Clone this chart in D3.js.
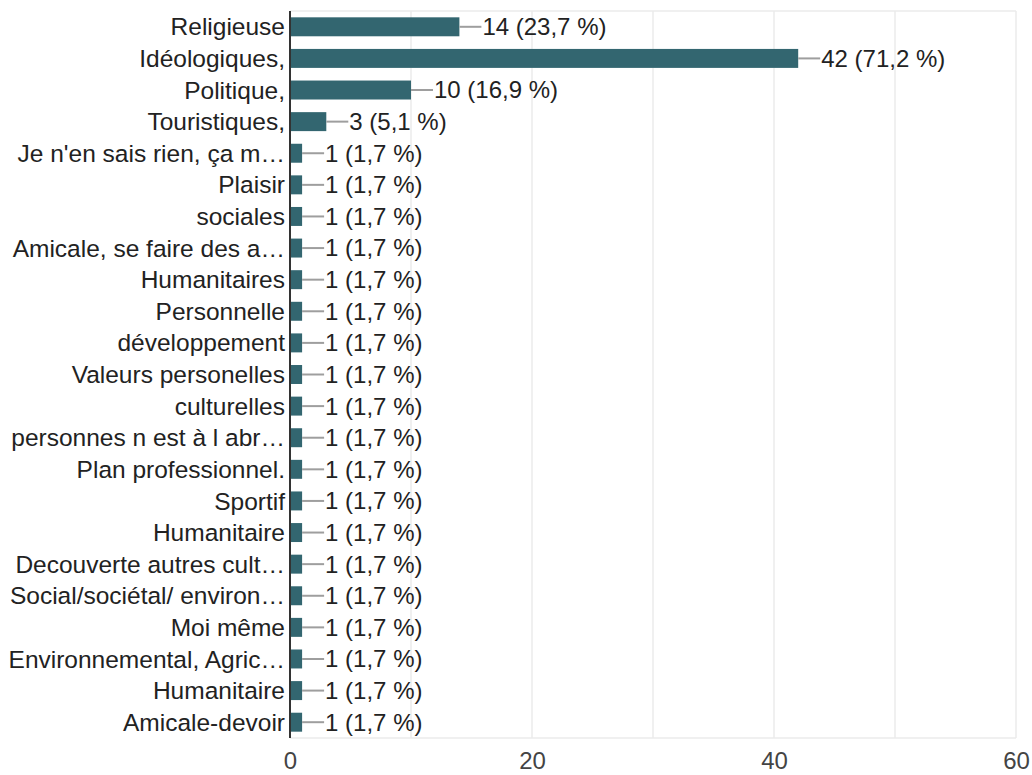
<!DOCTYPE html>
<html><head><meta charset="utf-8">
<script src="https://cdn.jsdelivr.net/npm/d3@7"></script>
<style>body{margin:0;background:#fff;} text{font-family:"Liberation Sans",Arial,sans-serif;}</style>
</head><body>
<svg id="chart" width="1032" height="775"></svg>
<script>
const categories = ["Religieuse","Idéologiques,","Politique,","Touristiques,","Je n'en sais rien, ça m…","Plaisir","sociales","Amicale, se faire des a…","Humanitaires","Personnelle","développement","Valeurs personelles","culturelles","personnes n est à l abr…","Plan professionnel.","Sportif","Humanitaire","Decouverte autres cult…","Social/sociétal/ environ…","Moi même","Environnemental, Agric…","Humanitaire","Amicale-devoir"];
const counts = [14,42,10,3,1,1,1,1,1,1,1,1,1,1,1,1,1,1,1,1,1,1,1];
const percents = ["23,7","71,2","16,9","5,1","1,7","1,7","1,7","1,7","1,7","1,7","1,7","1,7","1,7","1,7","1,7","1,7","1,7","1,7","1,7","1,7","1,7","1,7","1,7"];
const xTicks = [0,20,40,60];
const gridTicks = [10,20,30,40,50,60];

const svg = d3.select("#chart");
const L = 290, R = 1016, T = 11, B = 738;
const x = d3.scaleLinear().domain([0,60]).range([L,R]);
const idx = categories.map((c,i)=>i);
const y = d3.scaleBand().domain(idx).range([T,B]).paddingInner(0.4).paddingOuter(0.2);

// grid
svg.append("g").selectAll("line").data(gridTicks).join("line")
  .attr("x1",d=>x(d)).attr("x2",d=>x(d)).attr("y1",T).attr("y2",B)
  .attr("stroke","#ebebeb").attr("stroke-width",1.5);
svg.append("line").attr("x1",L).attr("x2",R).attr("y1",T).attr("y2",T).attr("stroke","#ebebeb").attr("stroke-width",1.5);
svg.append("line").attr("x1",L).attr("x2",R).attr("y1",B).attr("y2",B).attr("stroke","#ebebeb").attr("stroke-width",1.5);

// bars
svg.append("g").selectAll("rect").data(idx).join("rect")
  .attr("x",x(0)).attr("y",i=>y(i)).attr("width",i=>x(counts[i])-x(0)).attr("height",y.bandwidth())
  .attr("fill","#336670");

// leader lines
svg.append("g").selectAll("line").data(idx).join("line")
  .attr("x1",i=>x(counts[i])).attr("x2",i=>x(counts[i])+22)
  .attr("y1",i=>y(i)+y.bandwidth()/2).attr("y2",i=>y(i)+y.bandwidth()/2)
  .attr("stroke","#9e9e9e").attr("stroke-width",2);

// value labels
svg.append("g").selectAll("text").data(idx).join("text")
  .attr("x",i=>x(counts[i])+23).attr("y",i=>y(i)+y.bandwidth()/2)
  .attr("dy","0.35em").attr("font-size",24).attr("fill","#222")
  .text(i=>`${counts[i]} (${percents[i]} %)`);

// category labels
svg.append("g").selectAll("text").data(idx).join("text")
  .attr("x",L-5).attr("y",i=>y(i)+y.bandwidth()/2)
  .attr("dy","0.35em").attr("text-anchor","end").attr("font-size",24.5).attr("fill","#222")
  .text(i=>categories[i]);

// axis line
svg.append("line").attr("x1",L).attr("x2",L).attr("y1",T).attr("y2",B).attr("stroke","#333").attr("stroke-width",2);

// x tick labels
const xAxis = d3.axisBottom(x).tickValues(xTicks).tickSize(0).tickPadding(0);
const gx = svg.append("g").attr("transform",`translate(0,${B+14})`).call(xAxis);
gx.select(".domain").remove();
gx.selectAll("text").attr("font-size",24).attr("fill","#444").attr("font-family","Liberation Sans, Arial, sans-serif");
</script>
</body></html>
